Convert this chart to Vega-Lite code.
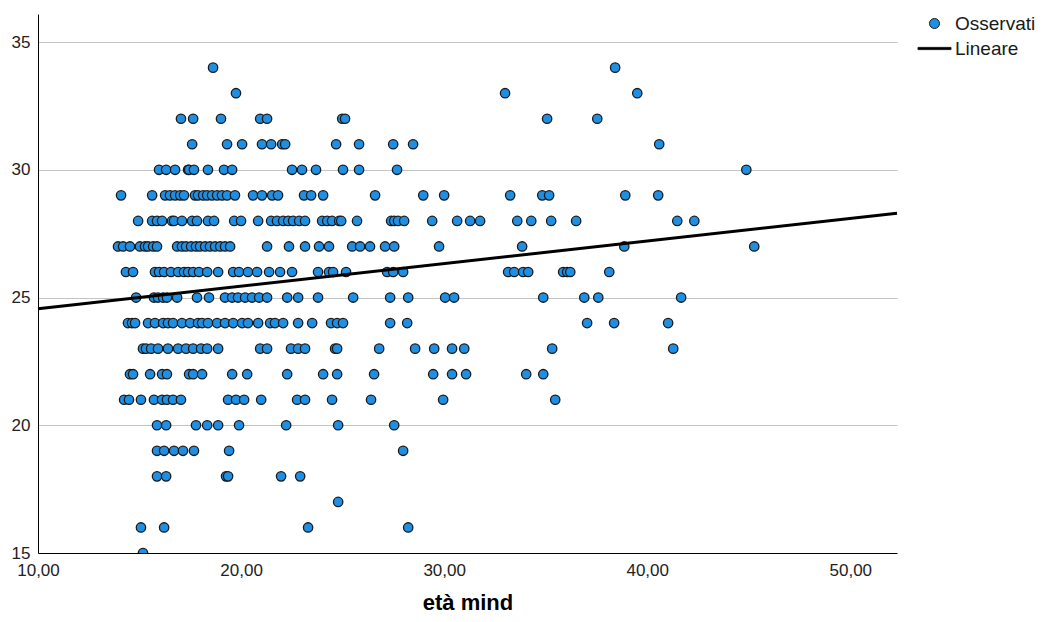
{
  "$schema": "https://vega.github.io/schema/vega-lite/v6.json",
  "width": 859,
  "height": 539,
  "autosize": {"type": "none"},
  "padding": {"left": 38, "top": 14, "right": 148, "bottom": 69},
  "background": "white",
  "config": {
    "view": {"stroke": null},
    "font": "Liberation Sans"
  },
  "datasets": {
    "osservati": [
      {"eta":18.62,"valore":34},{"eta":38.42,"valore":34},
      {"eta":19.75,"valore":33},{"eta":33.00,"valore":33},{"eta":39.51,"valore":33},
      {"eta":17.04,"valore":32},{"eta":17.64,"valore":32},{"eta":19.01,"valore":32},{"eta":20.94,"valore":32},{"eta":21.28,"valore":32},{"eta":24.98,"valore":32},{"eta":25.12,"valore":32},{"eta":35.07,"valore":32},{"eta":37.54,"valore":32},
      {"eta":17.59,"valore":31},{"eta":19.31,"valore":31},{"eta":20.05,"valore":31},{"eta":21.03,"valore":31},{"eta":21.48,"valore":31},{"eta":22.02,"valore":31},{"eta":22.17,"valore":31},{"eta":24.68,"valore":31},{"eta":25.81,"valore":31},{"eta":27.49,"valore":31},{"eta":28.47,"valore":31},{"eta":40.59,"valore":31},
      {"eta":15.96,"valore":30},{"eta":16.31,"valore":30},{"eta":16.75,"valore":30},{"eta":17.39,"valore":30},{"eta":17.44,"valore":30},{"eta":17.68,"valore":30},{"eta":18.37,"valore":30},{"eta":19.16,"valore":30},{"eta":19.56,"valore":30},{"eta":22.51,"valore":30},{"eta":23.00,"valore":30},{"eta":23.69,"valore":30},{"eta":25.02,"valore":30},{"eta":25.81,"valore":30},{"eta":27.68,"valore":30},{"eta":44.88,"valore":30},
      {"eta":14.09,"valore":29},{"eta":15.62,"valore":29},{"eta":16.26,"valore":29},{"eta":16.50,"valore":29},{"eta":16.75,"valore":29},{"eta":17.00,"valore":29},{"eta":17.19,"valore":29},{"eta":17.73,"valore":29},{"eta":17.88,"valore":29},{"eta":18.13,"valore":29},{"eta":18.33,"valore":29},{"eta":18.57,"valore":29},{"eta":18.82,"valore":29},{"eta":19.06,"valore":29},{"eta":19.31,"valore":29},{"eta":19.70,"valore":29},{"eta":20.59,"valore":29},{"eta":21.03,"valore":29},{"eta":21.53,"valore":29},{"eta":21.82,"valore":29},{"eta":23.10,"valore":29},{"eta":23.45,"valore":29},{"eta":24.04,"valore":29},{"eta":26.60,"valore":29},{"eta":28.97,"valore":29},{"eta":30.00,"valore":29},{"eta":33.25,"valore":29},{"eta":34.83,"valore":29},{"eta":35.17,"valore":29},{"eta":38.92,"valore":29},{"eta":40.54,"valore":29},
      {"eta":14.93,"valore":28},{"eta":15.62,"valore":28},{"eta":15.86,"valore":28},{"eta":16.11,"valore":28},{"eta":16.60,"valore":28},{"eta":16.70,"valore":28},{"eta":17.09,"valore":28},{"eta":17.59,"valore":28},{"eta":17.83,"valore":28},{"eta":18.37,"valore":28},{"eta":18.67,"valore":28},{"eta":19.66,"valore":28},{"eta":20.00,"valore":28},{"eta":20.84,"valore":28},{"eta":21.48,"valore":28},{"eta":21.77,"valore":28},{"eta":22.07,"valore":28},{"eta":22.32,"valore":28},{"eta":22.56,"valore":28},{"eta":22.86,"valore":28},{"eta":23.15,"valore":28},{"eta":23.99,"valore":28},{"eta":24.24,"valore":28},{"eta":24.48,"valore":28},{"eta":24.83,"valore":28},{"eta":24.93,"valore":28},{"eta":25.71,"valore":28},{"eta":27.39,"valore":28},{"eta":27.54,"valore":28},{"eta":27.73,"valore":28},{"eta":28.03,"valore":28},{"eta":29.41,"valore":28},{"eta":30.64,"valore":28},{"eta":31.28,"valore":28},{"eta":31.77,"valore":28},{"eta":33.60,"valore":28},{"eta":34.29,"valore":28},{"eta":35.27,"valore":28},{"eta":36.50,"valore":28},{"eta":41.48,"valore":28},{"eta":42.32,"valore":28},
      {"eta":13.94,"valore":27},{"eta":14.19,"valore":27},{"eta":14.53,"valore":27},{"eta":15.02,"valore":27},{"eta":15.27,"valore":27},{"eta":15.42,"valore":27},{"eta":15.67,"valore":27},{"eta":15.86,"valore":27},{"eta":16.85,"valore":27},{"eta":17.09,"valore":27},{"eta":17.29,"valore":27},{"eta":17.54,"valore":27},{"eta":17.78,"valore":27},{"eta":17.98,"valore":27},{"eta":18.23,"valore":27},{"eta":18.47,"valore":27},{"eta":18.72,"valore":27},{"eta":18.97,"valore":27},{"eta":19.21,"valore":27},{"eta":19.46,"valore":27},{"eta":21.28,"valore":27},{"eta":22.36,"valore":27},{"eta":23.15,"valore":27},{"eta":23.84,"valore":27},{"eta":24.33,"valore":27},{"eta":25.47,"valore":27},{"eta":25.86,"valore":27},{"eta":26.35,"valore":27},{"eta":27.09,"valore":27},{"eta":27.54,"valore":27},{"eta":29.75,"valore":27},{"eta":33.84,"valore":27},{"eta":38.87,"valore":27},{"eta":45.27,"valore":27},
      {"eta":14.33,"valore":26},{"eta":14.68,"valore":26},{"eta":15.76,"valore":26},{"eta":15.96,"valore":26},{"eta":16.21,"valore":26},{"eta":16.55,"valore":26},{"eta":16.90,"valore":26},{"eta":17.19,"valore":26},{"eta":17.39,"valore":26},{"eta":17.64,"valore":26},{"eta":17.93,"valore":26},{"eta":18.33,"valore":26},{"eta":18.87,"valore":26},{"eta":19.61,"valore":26},{"eta":19.90,"valore":26},{"eta":20.34,"valore":26},{"eta":20.79,"valore":26},{"eta":21.38,"valore":26},{"eta":21.92,"valore":26},{"eta":22.51,"valore":26},{"eta":23.79,"valore":26},{"eta":24.33,"valore":26},{"eta":24.53,"valore":26},{"eta":25.17,"valore":26},{"eta":27.19,"valore":26},{"eta":27.49,"valore":26},{"eta":27.98,"valore":26},{"eta":33.15,"valore":26},{"eta":33.45,"valore":26},{"eta":33.89,"valore":26},{"eta":34.14,"valore":26},{"eta":35.86,"valore":26},{"eta":36.06,"valore":26},{"eta":36.21,"valore":26},{"eta":38.13,"valore":26},
      {"eta":14.83,"valore":25},{"eta":15.71,"valore":25},{"eta":15.91,"valore":25},{"eta":16.16,"valore":25},{"eta":16.35,"valore":25},{"eta":16.85,"valore":25},{"eta":17.83,"valore":25},{"eta":18.42,"valore":25},{"eta":19.21,"valore":25},{"eta":19.56,"valore":25},{"eta":19.85,"valore":25},{"eta":20.20,"valore":25},{"eta":20.54,"valore":25},{"eta":20.89,"valore":25},{"eta":21.28,"valore":25},{"eta":22.27,"valore":25},{"eta":22.81,"valore":25},{"eta":23.79,"valore":25},{"eta":25.52,"valore":25},{"eta":27.34,"valore":25},{"eta":28.23,"valore":25},{"eta":30.05,"valore":25},{"eta":30.49,"valore":25},{"eta":34.88,"valore":25},{"eta":36.90,"valore":25},{"eta":37.59,"valore":25},{"eta":41.67,"valore":25},
      {"eta":14.43,"valore":24},{"eta":14.63,"valore":24},{"eta":14.78,"valore":24},{"eta":15.42,"valore":24},{"eta":15.76,"valore":24},{"eta":16.16,"valore":24},{"eta":16.40,"valore":24},{"eta":16.65,"valore":24},{"eta":17.09,"valore":24},{"eta":17.49,"valore":24},{"eta":17.88,"valore":24},{"eta":18.08,"valore":24},{"eta":18.37,"valore":24},{"eta":18.82,"valore":24},{"eta":19.21,"valore":24},{"eta":19.61,"valore":24},{"eta":20.05,"valore":24},{"eta":20.34,"valore":24},{"eta":20.84,"valore":24},{"eta":21.43,"valore":24},{"eta":21.67,"valore":24},{"eta":22.07,"valore":24},{"eta":22.81,"valore":24},{"eta":23.50,"valore":24},{"eta":24.43,"valore":24},{"eta":24.73,"valore":24},{"eta":25.02,"valore":24},{"eta":27.34,"valore":24},{"eta":28.18,"valore":24},{"eta":37.04,"valore":24},{"eta":38.37,"valore":24},{"eta":41.03,"valore":24},
      {"eta":15.17,"valore":23},{"eta":15.32,"valore":23},{"eta":15.57,"valore":23},{"eta":15.91,"valore":23},{"eta":16.40,"valore":23},{"eta":16.90,"valore":23},{"eta":17.29,"valore":23},{"eta":17.64,"valore":23},{"eta":18.03,"valore":23},{"eta":18.33,"valore":23},{"eta":18.87,"valore":23},{"eta":20.94,"valore":23},{"eta":21.28,"valore":23},{"eta":22.46,"valore":23},{"eta":22.81,"valore":23},{"eta":23.15,"valore":23},{"eta":24.63,"valore":23},{"eta":24.73,"valore":23},{"eta":26.80,"valore":23},{"eta":28.57,"valore":23},{"eta":29.51,"valore":23},{"eta":30.39,"valore":23},{"eta":30.99,"valore":23},{"eta":35.32,"valore":23},{"eta":41.28,"valore":23},
      {"eta":14.53,"valore":22},{"eta":14.68,"valore":22},{"eta":15.52,"valore":22},{"eta":16.11,"valore":22},{"eta":16.35,"valore":22},{"eta":17.44,"valore":22},{"eta":17.64,"valore":22},{"eta":18.08,"valore":22},{"eta":19.56,"valore":22},{"eta":20.30,"valore":22},{"eta":22.27,"valore":22},{"eta":24.04,"valore":22},{"eta":24.73,"valore":22},{"eta":26.55,"valore":22},{"eta":29.46,"valore":22},{"eta":30.39,"valore":22},{"eta":31.08,"valore":22},{"eta":34.04,"valore":22},{"eta":34.88,"valore":22},
      {"eta":14.24,"valore":21},{"eta":14.48,"valore":21},{"eta":15.07,"valore":21},{"eta":15.71,"valore":21},{"eta":16.11,"valore":21},{"eta":16.35,"valore":21},{"eta":16.65,"valore":21},{"eta":17.04,"valore":21},{"eta":19.36,"valore":21},{"eta":19.75,"valore":21},{"eta":20.15,"valore":21},{"eta":20.99,"valore":21},{"eta":22.76,"valore":21},{"eta":23.15,"valore":21},{"eta":24.48,"valore":21},{"eta":26.40,"valore":21},{"eta":29.95,"valore":21},{"eta":35.47,"valore":21},
      {"eta":15.86,"valore":20},{"eta":16.31,"valore":20},{"eta":17.78,"valore":20},{"eta":18.33,"valore":20},{"eta":18.87,"valore":20},{"eta":19.90,"valore":20},{"eta":22.22,"valore":20},{"eta":24.78,"valore":20},{"eta":27.54,"valore":20},
      {"eta":15.86,"valore":19},{"eta":16.21,"valore":19},{"eta":16.70,"valore":19},{"eta":17.14,"valore":19},{"eta":17.68,"valore":19},{"eta":19.41,"valore":19},{"eta":27.98,"valore":19},
      {"eta":15.86,"valore":18},{"eta":16.31,"valore":18},{"eta":19.26,"valore":18},{"eta":19.36,"valore":18},{"eta":21.97,"valore":18},{"eta":22.91,"valore":18},
      {"eta":24.78,"valore":17},
      {"eta":15.07,"valore":16},{"eta":16.21,"valore":16},{"eta":23.30,"valore":16},{"eta":28.23,"valore":16},
      {"eta":15.17,"valore":15}
    ],
    "lineare": [
      {"eta":10,"valore":24.56},
      {"eta":52.3,"valore":28.30}
    ]
  },
  "layer": [
    {
      "data": {"name": "osservati"},
      "mark": {"type": "point", "filled": true, "size": 88, "stroke": "#1a1a1a", "strokeWidth": 1.3, "opacity": 1, "clip": true},
      "encoding": {
        "x": {
          "field": "eta", "type": "quantitative",
          "scale": {"domain": [10, 52.3], "nice": false, "zero": false},
          "axis": {
            "values": [10, 20, 30, 40, 50],
            "labelExpr": "replace(format(datum.value, '.2f'), '.', ',')",
            "grid": false, "ticks": false,
            "domainColor": "#000000", "domainWidth": 1,
            "labelFontSize": 17, "labelColor": "#222222", "labelFont": "Liberation Sans",
            "labelPadding": 9, "labelFlush": false,
            "title": "età mind", "titleFont": "Liberation Sans", "titleFontWeight": "bold",
            "titleFontSize": 22, "titleColor": "#000000", "titlePadding": 14
          }
        },
        "y": {
          "field": "valore", "type": "quantitative",
          "scale": {"domain": [15, 36.1], "nice": false, "zero": false},
          "axis": {
            "values": [15, 20, 25, 30, 35],
            "grid": true, "gridColor": "#c4c4c4", "gridWidth": 1,
            "ticks": false,
            "domainColor": "#000000", "domainWidth": 1,
            "labelFontSize": 17, "labelColor": "#222222", "labelFont": "Liberation Sans",
            "labelPadding": 8, "labelFlush": false,
            "title": null
          }
        },
        "color": {
          "datum": "Osservati",
          "scale": {"domain": ["Osservati", "Lineare"], "range": ["#1f8fe3", "#000000"]},
          "legend": {
            "title": null, "orient": "none", "legendX": 887, "legendY": 0,
            "labelFontSize": 19, "labelFont": "Liberation Sans", "labelColor": "#1a1a1a",
            "symbolSize": 100, "symbolStrokeColor": "#1a1a1a", "symbolStrokeWidth": 1,
            "labelOffset": 11, "rowPadding": 5, "padding": 0
          }
        },
        "shape": {
          "datum": "Osservati",
          "scale": {"domain": ["Osservati", "Lineare"], "range": ["circle", "M-3.3,-0.22H3.3V0.22H-3.3Z"]},
          "legend": {
            "title": null, "orient": "none", "legendX": 887, "legendY": 0,
            "labelFontSize": 19, "labelFont": "Liberation Sans", "labelColor": "#1a1a1a",
            "symbolSize": 100, "symbolStrokeColor": "#1a1a1a", "symbolStrokeWidth": 1,
            "labelOffset": 11, "rowPadding": 5, "padding": 0
          }
        }
      }
    },
    {
      "data": {"name": "lineare"},
      "mark": {"type": "line", "stroke": "#000000", "strokeWidth": 3},
      "encoding": {
        "x": {"field": "eta", "type": "quantitative"},
        "y": {"field": "valore", "type": "quantitative"}
      }
    }
  ]
}
